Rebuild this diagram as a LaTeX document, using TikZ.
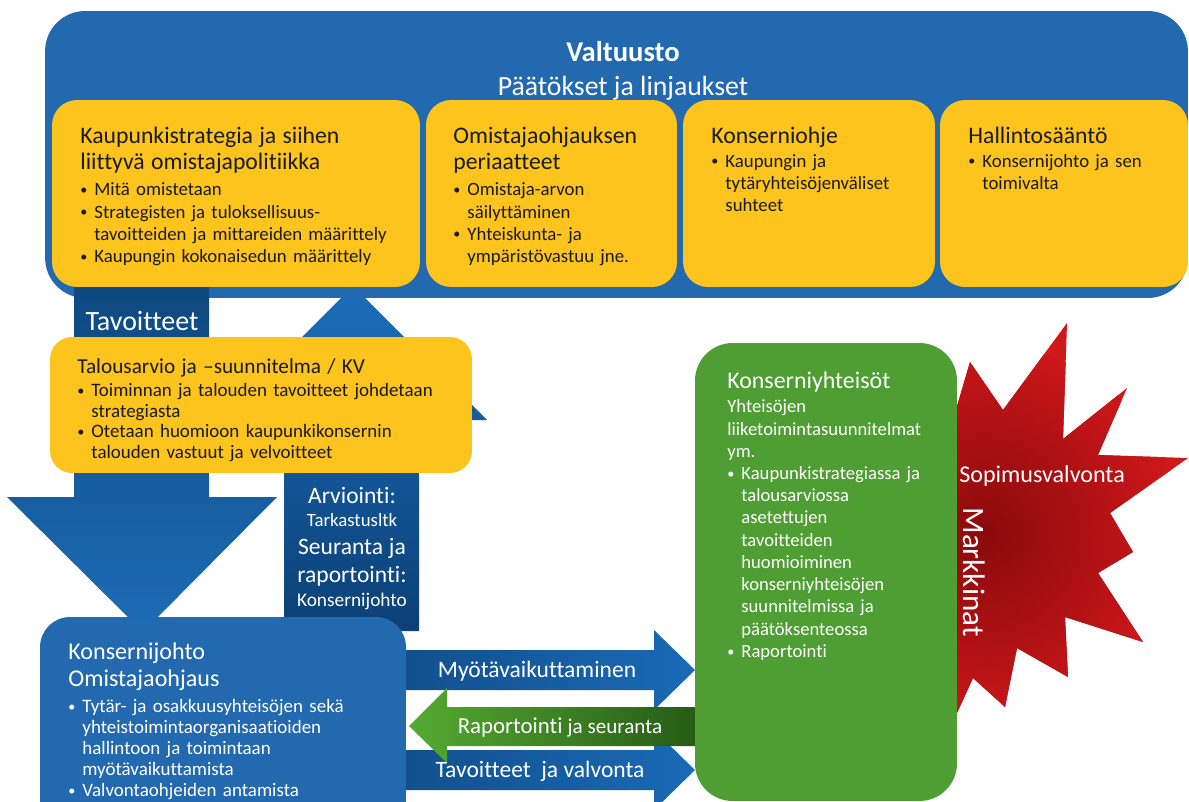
\documentclass[tikz,border=0pt]{standalone}
\usepackage{fontspec}
\setmainfont{Carlito}[Ligatures={TeX,NoCommon}]
\definecolor{valtblue}{HTML}{2369AF}
\definecolor{boxyellow}{HTML}{FCC41D}
\definecolor{ink}{HTML}{1A1A1A}
\definecolor{downdark}{HTML}{0E487F}
\definecolor{downlight}{HTML}{1D6CB7}
\definecolor{updark}{HTML}{0C4076}
\definecolor{uplight}{HTML}{1B6EBB}
\definecolor{hdark}{HTML}{114F8C}
\definecolor{hlight}{HTML}{1A6AB6}
\definecolor{kgreen}{HTML}{4F9E33}
\definecolor{glight}{HTML}{55AB32}
\definecolor{gdark}{HTML}{255A15}
\definecolor{starred}{HTML}{D1181B}
\definecolor{stardark}{HTML}{8A0A0C}
\newcommand{\bitem}[1]{\par\hangindent=8pt\hangafter=1\noindent
  \hbox to 8pt{\fontsize{8}{8}\selectfont\raisebox{0.2ex}{\textbullet}\hfil}{\let\\\newline #1}\par}
\newcommand{\btitle}[3]{{\fontsize{#1}{#2}\selectfont #3\par}}
\tikzset{
  panel/.style={fill=valtblue, rounded corners=0.8cm, inner sep=0pt},
  ybox/.style={fill=boxyellow, rounded corners=0.5cm, inner sep=0pt},
  ytext/.style={anchor=base west, inner sep=0pt, align=left, text=ink,
    font=\fontsize{10.7}{12.7}\selectfont},
  wtext/.style={inner sep=0pt, text=white},
}
\begin{document}
\begin{tikzpicture}[x=0.02cm, y=-0.02cm]
\useasboundingbox (0,0) rectangle (1189,801);
\clip (0,0) rectangle (1189,801);
\fill[white] (0,0) rectangle (1189,801);
% markkinat star behind the green box
\fill[starred, path picture={\shade[inner color=stardark, outer color=starred] (985,545) circle (200);}]
  (950,430) -- (970,362) -- (1003,410) -- (1067,323) -- (1063,439) -- (1127,388)
  -- (1098,455) -- (1188,458) -- (1110,513) -- (1133,552) -- (1098,573) -- (1143,642)
  -- (1065,617) -- (1068,677) -- (1017,648) -- (1005,707) -- (973,678) -- (957,713)
  -- (950,713) -- cycle;
% block arrows between konsernijohto and konserniyhteisot
\shade[left color=hdark, right color=hlight]
  (395,650) -- (654,650) -- (654,630) -- (695,670) -- (654,710) -- (654,690) -- (395,690) -- cycle;
\shade[left color=hdark, right color=hlight]
  (395,750) -- (654,750) -- (654,730) -- (695,770) -- (654,810) -- (654,790) -- (395,790) -- cycle;
\shade[left color=glight, right color=gdark]
  (409,726) -- (447,688) -- (447,707) -- (700,707) -- (700,746) -- (447,746) -- (447,763) -- cycle;
% upward arrow
\shade[top color=uplight, bottom color=updark]
  (284,631) -- (284,420) -- (219,420) -- (353,286) -- (487,420) -- (419,420) -- (419,631) -- cycle;
% valtuusto
\node[panel, minimum width=22.86cm, minimum height=5.74cm] (valt) at (616.5,154.5) {};
\node[ybox, minimum width=7.36cm, minimum height=3.74cm] (strat) at (236,193.5) {};
\node[ybox, minimum width=5.02cm, minimum height=3.74cm] (periaat) at (551.5,193.5) {};
\node[ybox, minimum width=5.04cm, minimum height=3.74cm] (ohje) at (809,193.5) {};
\node[ybox, minimum width=4.96cm, minimum height=3.74cm] (hsaanto) at (1064,193.5) {};
% konsernijohto
\node[panel, rounded corners=0.6cm, minimum width=7.32cm, minimum height=4.66cm] (kjohto) at (223,733.5) {};
% downward arrow
\shade[top color=downdark, bottom color=downlight]
  (74,287) -- (209,287) -- (209,497) -- (277,497) -- (143,632) -- (7,497) -- (74,497) -- cycle;
\node[ybox, rounded corners=0.44cm, minimum width=8.44cm, minimum height=2.72cm] (talous) at (261,405) {};
\node[fill=kgreen, rounded corners=0.75cm, inner sep=0pt, minimum width=5.24cm, minimum height=9.16cm] (yhteis) at (826,572) {};
% texts
\node[wtext, anchor=base, font=\bfseries\fontsize{16.3}{19}\selectfont] (valt-t) at (623,61) {Valtuusto};
\node[wtext, anchor=base, font=\fontsize{15.8}{19}\selectfont] (paat) at (623,95) {Päätökset ja linjaukset};
\node[ytext, text width=6.9cm] (strat-t) at (80,143) {\btitle{13.5}{15.3}{Kaupunkistrategia ja siihen\\liittyvä omistajapolitiikka}\vspace{2pt}
  \bitem{Mitä omistetaan}
  \bitem{Strategisten\ ja tuloksellisuus-\\tavoitteiden ja mittareiden määrittely}
  \bitem{Kaupungin kokonaisedun määrittely}};
\node[ytext, text width=4.4cm] (periaat-t) at (453,143) {\btitle{13.5}{15.3}{Omistajaohjauksen\\periaatteet}\vspace{2pt}
  \bitem{Omistaja-arvon\\säilyttäminen}
  \bitem{Yhteiskunta- ja\\ympäristövastuu jne.}};
\node[ytext, text width=4.4cm] (ohje-t) at (711,143) {\btitle{13.5}{15.3}{Konserniohje}\vspace{1pt}
  \bitem{Kaupungin ja\\tytäryhteisöjenväliset\\suhteet}};
\node[ytext, text width=4.4cm] (hsaanto-t) at (968,143) {\btitle{13.5}{15.3}{Hallintosääntö}\vspace{1pt}
  \bitem{Konsernijohto ja sen\\toimivalta}};
\node[wtext, anchor=base, font=\fontsize{15.9}{18}\selectfont] (tavo) at (142,330) {Tavoitteet};
\node[ytext, text width=7.9cm, font=\fontsize{10.8}{11.6}\selectfont] (talous-t) at (77,373) {\btitle{12.1}{14}{Talousarvio ja –suunnitelma / KV}\vspace{2pt}
  \bitem{Toiminnan ja talouden tavoitteet johdetaan\\strategiasta}
  \bitem{Otetaan huomioon kaupunkikonsernin\\talouden vastuut ja velvoitteet}};
\node[wtext, anchor=base, text width=2.7cm, align=center] (arvi) at (352,503) {\btitle{13.4}{15}{Arviointi:}
  \btitle{10.7}{13.6}{Tarkastusltk}
  \btitle{13.4}{15.9}{Seuranta ja\\raportointi:}
  \btitle{11}{13.6}{Konsernijohto}};
\node[wtext, anchor=base west, text width=6.6cm, align=left, font=\fontsize{10.8}{11.9}\selectfont] (kjohto-t) at (68,659) {\btitle{13.7}{15.9}{Konsernijohto\\Omistajaohjaus}\vspace{2.8pt}
  \bitem{Tytär- ja osakkuusyhteisöjen sekä\\yhteistoimintaorganisaatioiden\\hallintoon ja toimintaan\\myötävaikuttamista}
  \bitem{Valvontaohjeiden antamista}};
\node[wtext, anchor=base west, text width=4.6cm, align=left, font=\fontsize{10.6}{12.65}\selectfont] (yhteis-t) at (727,388) {\btitle{13.6}{16}{Konserniyhteisöt}\vspace{1.5pt}
  Yhteisöjen\\liiketoimintasuunnitelmat\\ym.\par
  \bitem{Kaupunkistrategiassa ja\\talousarviossa\\asetettujen\\tavoitteiden\\huomioiminen\\konserniyhteisöjen\\suunnitelmissa ja\\päätöksenteossa}
  \bitem{Raportointi}};
\node[wtext, anchor=base, font=\fontsize{13.4}{16}\selectfont] (myot) at (537,677) {Myötävaikuttaminen};
\node[wtext, anchor=base, font=\fontsize{13}{16}\selectfont] (rapo) at (560,733) {Raportointi {\fontsize{12}{14}\selectfont ja seuranta}};
\node[wtext, anchor=base, font=\fontsize{13.4}{16}\selectfont] (valvo) at (540,777) {Tavoitteet\ \ ja valvonta};
\node[wtext, anchor=base west, font=\fontsize{13.7}{16}\selectfont] (sopim) at (959,482) {Sopimusvalvonta};
\node[wtext, rotate=-90, font=\fontsize{17.7}{20}\selectfont] (mark) at (974,572) {Markkinat};
\end{tikzpicture}
\end{document}
